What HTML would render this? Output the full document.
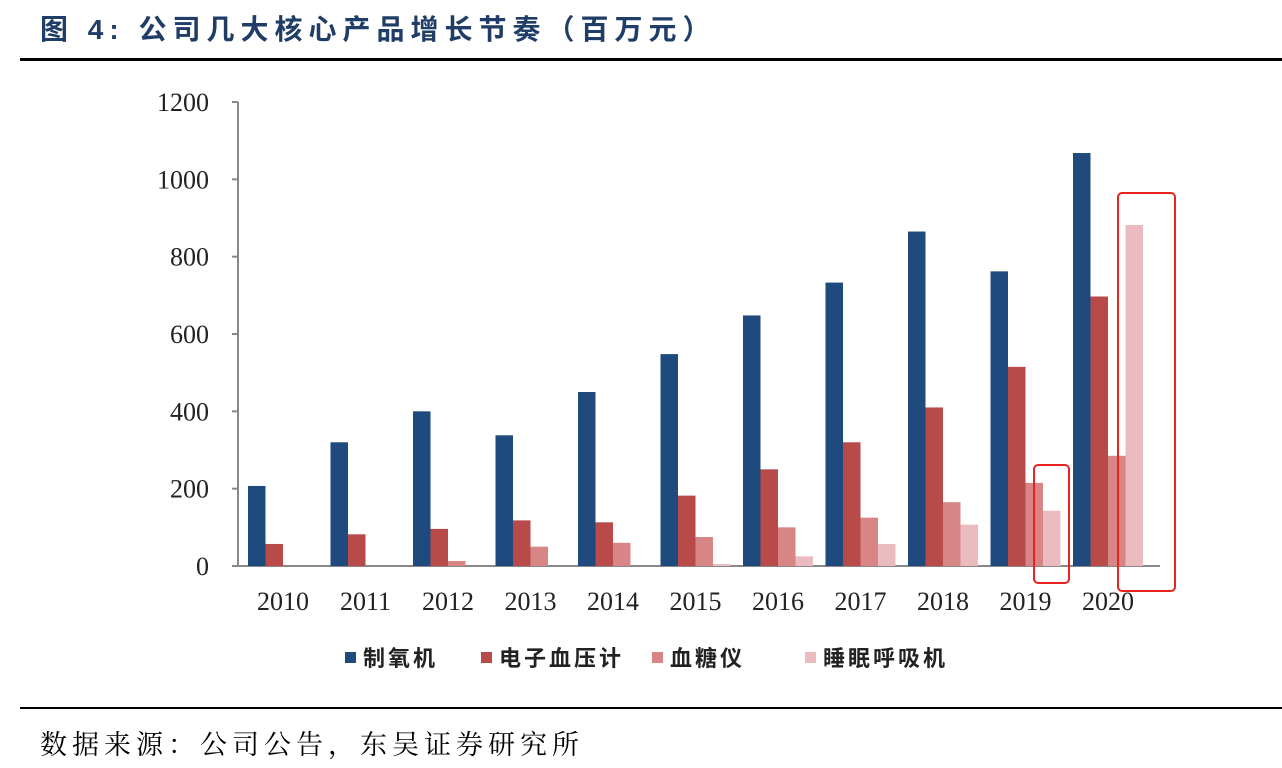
<!DOCTYPE html>
<html><head><meta charset="utf-8"><style>
body{margin:0;width:1282px;height:768px;background:#fff;overflow:hidden;position:relative;font-family:"Liberation Serif","Noto Serif CJK SC",serif}
.t{position:absolute;left:40px;top:8px;font:bold 28px "Liberation Sans","Noto Sans CJK SC",sans-serif;color:#1f3d66;letter-spacing:6px}
.l1{position:absolute;left:20px;top:58px;width:1262px;height:3px;background:#000}
.l2{position:absolute;left:20px;top:707px;width:1262px;height:2px;background:#000}
.f{position:absolute;left:40px;top:723px;font:27px "Noto Serif CJK SC",serif;color:#000;letter-spacing:5px}
</style></head><body>
<div class="t">图 4:&nbsp;公司几大核心产品增长节奏（百万元）</div>
<div class="l1"></div>
<svg id="c" width="1282" height="768" style="position:absolute;left:0;top:0"></svg>
<div class="l2"></div>
<div class="f">数据来源：公司公告，东吴证券研究所</div>
<script>
const years=["2010","2011","2012","2013","2014","2015","2016","2017","2018","2019","2020"];
const oxygen=[207,320,400,338,450,548,648,733,865,762,1068];
const bp=[57,82,96,118,113,182,250,320,410,515,697];
const glucose=[0,0,13,50,60,75,100,125,165,215,285];
const sleep=[0,0,0,0,0,5,25,57,107,143,882];
const yTicks=[0,200,400,600,800,1000,1200];
const names=["制氧机","电子血压计","血糖仪","睡眠呼吸机"];
const colors=["#1f4a7d","#b94a4a","#d88585","#ebbcbf"];
const series=[oxygen,bp,glucose,sleep];
const NS="http://www.w3.org/2000/svg",svg=document.getElementById('c');
const y0=566,yTop=102,yMax=1200,x0=283,step=82.5,bw=17.5;
const Y=v=>y0-(v/yMax)*(y0-yTop);
const X=i=>x0+i*step;
function mk(t,a){const e=document.createElementNS(NS,t);for(const k in a)e.setAttribute(k,a[k]);svg.appendChild(e);return e;}
let ax=mk('line',{x1:238,y1:yTop,x2:238,y2:y0,stroke:'#888','stroke-width':2});


let xa=mk('line',{x1:238,y1:y0,x2:1160,y2:y0,stroke:'#888','stroke-width':2});


yTicks.forEach(v=>{
 const tk=mk('line',{x1:232,y1:Y(v),x2:238,y2:Y(v),stroke:'#888','stroke-width':2});
 
 
 const tx=mk('text',{x:209,y:Y(v)+9,'text-anchor':'end','font-size':26,fill:'#222'});
 tx.textContent=v;
 
 
});
years.forEach((yr,i)=>{
 const tx=mk('text',{x:X(i),y:610,'text-anchor':'middle','font-size':26,fill:'#222'});
 tx.textContent=yr;
 
 
 series.forEach((s,j)=>{
  if(s[i]<=0)return;
  const r=mk('rect',{x:X(i)-35+j*bw,y:Y(s[i]),width:bw,height:y0-Y(s[i]),fill:colors[j]});
  
  
 });
});
const lx=[345,481,652,805];
names.forEach((n,j)=>{
 const r=mk('rect',{x:lx[j],y:652,width:11,height:11,fill:colors[j]});
 
 
 const t=mk('text',{x:lx[j]+18,y:666,'font-size':22,'font-weight':'bold',fill:'#222','font-family':'Noto Sans CJK SC, sans-serif','letter-spacing':'3'});
 t.textContent=n;
 
 
});
let b1=mk('rect',{x:1034,y:465,width:35,height:118,rx:4,fill:'none',stroke:'#e8231f','stroke-width':2});


let b2=mk('rect',{x:1118,y:193,width:57,height:398,rx:4,fill:'none',stroke:'#e8231f','stroke-width':2});


</script>
</body></html>
